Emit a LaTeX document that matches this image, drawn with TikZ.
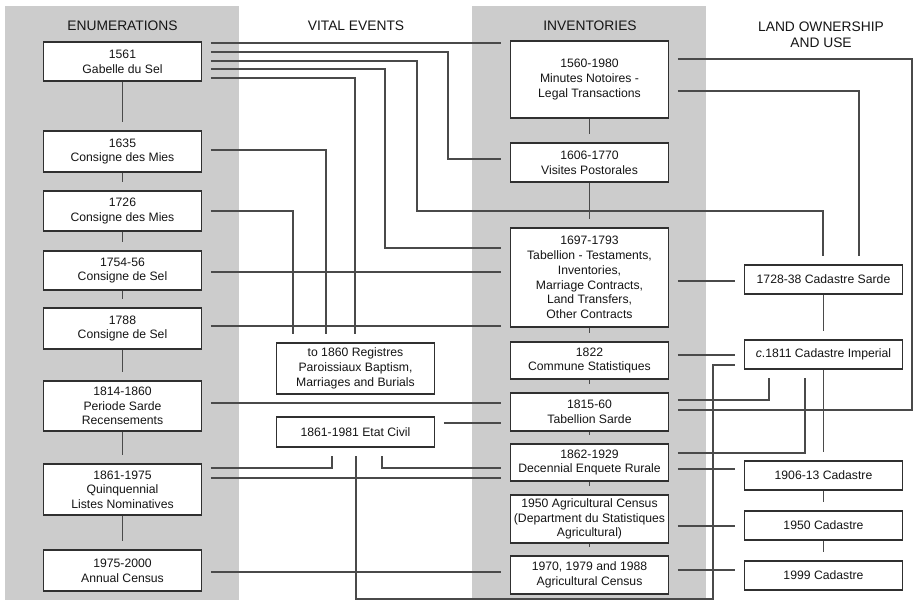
\documentclass[tikz,border=0pt]{standalone}
\usepackage{fontspec}
\setmainfont{Liberation Sans}
\definecolor{band}{HTML}{CCCCCC}
\definecolor{boxc}{HTML}{303030}
\definecolor{linec}{HTML}{4A4A4A}
\definecolor{txt}{HTML}{151515}
\begin{document}
\begin{tikzpicture}[x=1pt,y=-1pt,
  box/.style={draw=boxc, line width=1.8pt, fill=white, align=center, inner sep=0pt,
    minimum width=158pt, font=\fontsize{12.2}{14.7}\selectfont, text=txt},
  conn/.style={draw=linec, line width=1.3pt, shorten <=8.5pt, shorten >=8.5pt},
  colc/.style={draw=linec, line width=1.3pt, shorten >=8.5pt},
  hdr/.style={font=\fontsize{13.8}{16}\selectfont, text=txt, align=center, inner sep=0pt}]
\useasboundingbox (0,0) rectangle (915,602);
\fill[white] (0,0) rectangle (915,602);
% bands
\fill[band] (5,6) rectangle (239,600);
\fill[band] (472,6) rectangle (706,600);
% headers
\node[hdr] (h1) at (122.5,26) {ENUMERATIONS};
\node[hdr] (h2) at (356,26) {VITAL EVENTS};
\node[hdr] (h3) at (590,26) {INVENTORIES};
\node[hdr] (h4) at (821,35) {LAND OWNERSHIP\\AND USE};
% enumerations
\node[box, minimum height=39pt] (en1) at (122.5,61.5) {1561\\Gabelle du Sel};
\node[box, minimum height=41pt] (en2) at (122.5,151.5) {1635\\Consigne des Mies};
\node[box, minimum height=40pt] (en3) at (122.5,211) {1726\\Consigne des Mies};
\node[box, minimum height=39pt] (en4) at (122.5,270.5) {1754-56\\Consigne de Sel};
\node[box, minimum height=41pt] (en5) at (122.5,328.5) {1788\\Consigne de Sel};
\node[box, minimum height=50pt] (en6) at (122.5,406) {1814-1860\\Periode Sarde\\Recensements};
\node[box, minimum height=51pt] (en7) at (122.5,489.5) {1861-1975\\Quinquennial\\Listes Nominatives};
\node[box, minimum height=41pt] (en8) at (122.5,570.5) {1975-2000\\Annual Census};
% vital events
\node[box, minimum height=51pt] (ve1) at (355.5,368.5) {to 1860 Registres\\Paroissiaux Baptism,\\Marriages and Burials};
\node[box, minimum height=30pt] (ve2) at (355.5,432) {1861-1981 Etat Civil};
% inventories
\node[box, minimum height=77pt] (in1) at (589.5,79.5) {1560-1980\\Minutes Notoires -\\Legal Transactions};
\node[box, minimum height=39pt] (in2) at (589.5,162.5) {1606-1770\\Visites Postorales};
\node[box, minimum height=99pt] (in3) at (589.5,277.5) {1697-1793\\Tabellion - Testaments,\\Inventories,\\Marriage Contracts,\\Land Transfers,\\Other Contracts};
\node[box, minimum height=37pt] (in4) at (589.5,360.5) {1822\\Commune Statistiques};
\node[box, minimum height=38pt] (in5) at (589.5,412) {1815-60\\Tabellion Sarde};
\node[box, minimum height=37pt] (in6) at (589.5,462.5) {1862-1929\\Decennial Enquete Rurale};
\node[box, minimum height=48pt] (in7) at (589.5,519) {1950 Agricultural Census\\(Department du Statistiques\\Agricultural)};
\node[box, minimum height=38pt] (in8) at (589.5,575) {1970, 1979 and 1988\\Agricultural Census};
% land
\node[box, minimum height=29pt] (la1) at (823.5,279.5) {1728-38 Cadastre Sarde};
\node[box, minimum height=29pt] (la2) at (823.5,354.5) {\textit{c}.1811 Cadastre Imperial};
\node[box, minimum height=29pt] (la3) at (823.5,475.5) {1906-13 Cadastre};
\node[box, minimum height=29pt] (la4) at (823.5,525.5) {1950 Cadastre};
\node[box, minimum height=29pt] (la5) at (823.5,575.5) {1999 Cadastre};
% column connectors
\foreach \a/\b in {en1/en2,en2/en3,en3/en4,en4/en5,en5/en6,en6/en7,en7/en8,
  in1/in2,in2/in3,in3/in4,in4/in5,in5/in6,in6/in7,in7/in8,
  la1/la2,la2/la3,la3/la4,la4/la5}
  \draw[colc] (\a.south) -- (\b.north);
% from 1561
\draw[conn] (en1.east |- 0,43) -- (in1.west |- 0,43);
\draw[conn] (en1.east |- 0,52) -| (448,159) -- (in2.west |- 0,159);
\draw[conn] (en1.east |- 0,61) -| (417,211) -| (823,0 |- la1.north);
\draw[conn] (en1.east |- 0,69) -| (385,248) -- (in3.west |- 0,248);
\draw[conn] (en1.east |- 0,78) -| (355,0 |- ve1.north);
% to registres
\draw[conn] (en2.east |- 0,150) -| (326,0 |- ve1.north);
\draw[conn] (en3.east |- 0,211) -| (293,0 |- ve1.north);
% to 1697
\draw[conn] (en4.east |- 0,272) -- (in3.west |- 0,272);
\draw[conn] (en5.east |- 0,326) -- (in3.west |- 0,326);
% lower enumerations
\draw[conn] (en6.east |- 0,403) -- (in5.west |- 0,403);
\draw[conn] (ve2.east |- 0,423) -- (in5.west |- 0,423);
\draw[conn] (en7.east |- 0,468) -| (332,0 |- ve2.south);
\draw[conn] (en7.east |- 0,478) -- (in6.west |- 0,478);
\draw[conn] (382,0 |- ve2.south) |- (in6.west |- 0,468);
\draw[conn] (356,0 |- ve2.south) -- (356,599) -| (713,365) -- (la2.west |- 0,365);
\draw[conn] (en8.east |- 0,572) -- (in8.west |- 0,572);
% inventories to land
\draw[conn] (in1.east |- 0,59) -| (912,410) -- (in5.east |- 0,410);
\draw[conn] (in1.east |- 0,91) -| (859,0 |- la1.north);
\draw[conn] (in3.east |- 0,281) -- (la1.west |- 0,281);
\draw[conn] (in4.east |- 0,355) -- (la2.west |- 0,355);
\draw[conn] (in5.east |- 0,400) -| (769,0 |- la2.south);
\draw[conn] (in6.east |- 0,453) -| (805,0 |- la2.south);
\draw[conn] (in6.east |- 0,469) -- (la3.west |- 0,469);
\draw[conn] (in7.east |- 0,526) -- (la4.west |- 0,526);
\draw[conn] (in8.east |- 0,570) -- (la5.west |- 0,570);
\end{tikzpicture}
\end{document}
